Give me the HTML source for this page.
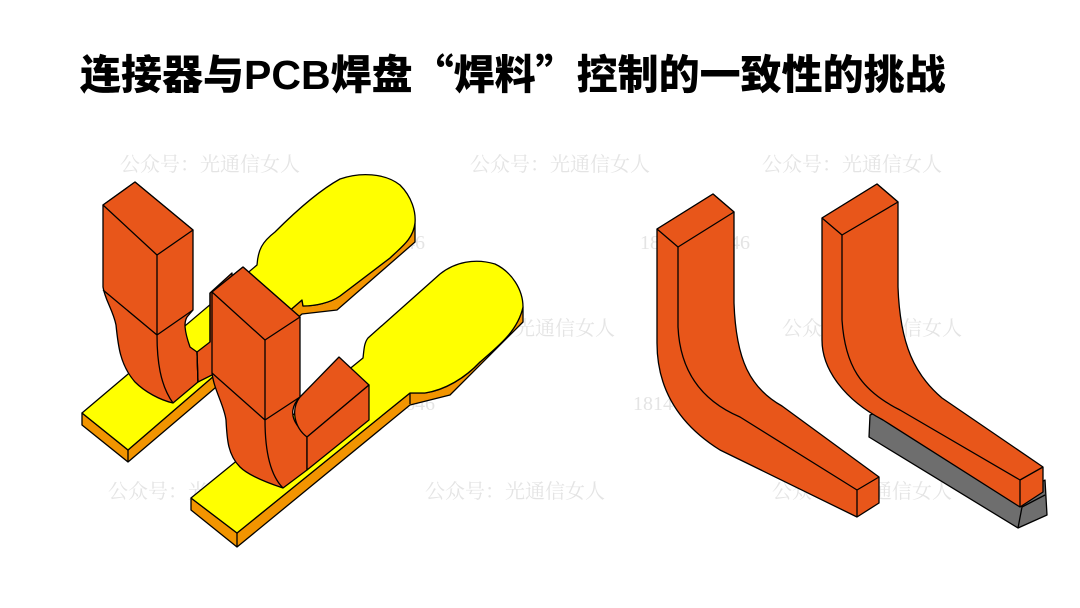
<!DOCTYPE html>
<html><head><meta charset="utf-8"><style>
html,body{margin:0;padding:0;background:#fff;}
body{width:1080px;height:608px;position:relative;overflow:hidden;}
.t{position:absolute;left:80px;top:43px;font-family:"Noto Sans CJK SC",sans-serif;font-weight:900;font-size:41px;line-height:56px;color:#000;white-space:nowrap;letter-spacing:0px}
.w{position:absolute;font-family:"Liberation Serif","Noto Serif CJK SC",serif;font-size:20px;color:#e4e4e4;white-space:nowrap}
svg{position:absolute;left:0;top:0}
</style></head><body>
<div class="t">连接器与<span style="font-family:'Liberation Sans',sans-serif;font-weight:bold">PCB</span>焊盘“焊料”控制的一致性的挑战</div>
<div class="w" style="left:120px;top:148px">公众号：光通信女人</div>
<div class="w" style="left:470px;top:148px">公众号：光通信女人</div>
<div class="w" style="left:762px;top:148px">公众号：光通信女人</div>
<div class="w" style="left:315px;top:232px">18140517646</div>
<div class="w" style="left:640px;top:232px">18140517646</div>
<div class="w" style="left:120px;top:312px">公众号：光通信女人</div>
<div class="w" style="left:435px;top:312px">公众号：光通信女人</div>
<div class="w" style="left:782px;top:312px">公众号：光通信女人</div>
<div class="w" style="left:325px;top:393px">18140517646</div>
<div class="w" style="left:633px;top:393px">18140517646</div>
<div class="w" style="left:108px;top:475px">公众号：光通信女人</div>
<div class="w" style="left:425px;top:475px">公众号：光通信女人</div>
<div class="w" style="left:772px;top:475px">公众号：光通信女人</div>
<svg width="1080" height="608" viewBox="0 0 1080 608" stroke="#000" stroke-width="1.3" stroke-linejoin="round">
<!-- back pad -->
<path d="M82,413 L82,425 L128,462 L302,314 L337,310 L415,242 L415,223 C413,240 400,248 390,258 L340,296 C330,303 315,306 303,306 L302,300 L128,450 Z" fill="#F29400"/>
<path d="M82,413 L257,265 C258,250 262,242 275,232 C295,212 320,190 340,179 C360,172 385,173 400,185 C412,197 416,212 415,223 C413,240 400,248 390,258 L340,296 C330,303 315,306 303,306 L302,300 L128,450 Z" fill="#FFFF00"/>
<line x1="128" y1="450" x2="128" y2="462"/>
<!-- back leg -->
<path d="M193,310 L187,317 C184,322 184,330 190,347 L197,352 L198,382 L173,403 C160,400 145,392 135,382 C120,365 118,345 116,325 C113,310 105,300 103,287 L103,205 L135,182 L193,230 Z" fill="#E8561A"/>
<path d="M197,352 L210,342 L210,293 L232,273 L232,280 L232,365 L198,382 Z" fill="#E8561A"/>
<path d="M103,205 L135,182 L193,230 L157,255 Z" fill="#E8561A"/>
<path d="M157,255 L157,335 M103,290 L157,335 L193,310 M157,335 C157,360 160,385 173,403 M197,352 L198,382 M210,293 L210,342" fill="none"/>
<!-- front pad -->
<path d="M191,498 L191,510 L237,547 L410,405 L450,395 L523,322 L523,307 C518,330 500,345 480,362 C465,378 445,390 425,393 L410,393 L237,533 Z" fill="#F29400"/>
<path d="M191,498 L363,358 C364,350 364,343 368,338 L440,274 C455,262 475,258 495,264 C512,272 523,290 523,307 C518,330 500,345 480,362 C465,378 445,390 425,393 L410,393 L237,533 Z" fill="#FFFF00"/>
<line x1="237" y1="533" x2="237" y2="547"/>
<line x1="410" y1="393" x2="410" y2="404"/>
<!-- front leg -->
<path d="M212,292 L243,267 L300,317 L300,397 C292,405 290,415 297,425 L307,437 L307,470 L283,488 C265,482 248,475 240,467 C228,455 227,440 226,420 C224,405 214,390 212,373 Z" fill="#E8561A"/>
<path d="M300,397 L339,357 L369,385 L307,437 C295,428 290,410 300,397 Z" fill="#E8561A"/>
<path d="M307,437 L369,385 L369,420 L307,470 Z" fill="#E8561A"/>
<path d="M212,292 L243,267 L300,317 L265,340 Z" fill="#E8561A"/>
<path d="M265,340 L265,420 M212,373 L265,420 L300,397 M265,420 C265,450 270,475 283,488" fill="none"/>
<!-- right: left J -->
<path d="M657,229 L713,194 L734,212 L734,303 C736,360 750,388 782,406 L879,477 L879,503 L857,517 L720,450 C680,425 657,390 657,343 Z" fill="#E8561A"/>
<path d="M657,229 L713,194 L734,212 L678,247 Z M857,490 L879,477 M857,490 L857,517" fill="#E8561A"/>
<path d="M678,247 L678,327 C680,370 700,400 740,417 L857,490" fill="none"/>
<!-- right: right J with solder -->
<path d="M870,415 L869,437 L1018,528 L1047,515 L1045,480 L1020,495 L883,410 Z" fill="#6E6E6E"/>
<path d="M1018,528 L1022,507 L1045,495" fill="none"/>
<path d="M822,218 L877,184 L898,202 L898,287 C900,345 915,375 942,398 L1043,467 L1043,492 L1020,507 L883,420 C845,400 822,370 822,340 Z" fill="#E8561A"/>
<path d="M822,218 L877,184 L898,202 L842,235 Z" fill="#E8561A"/>
<path d="M842,235 L842,320 C845,365 860,390 900,410 L1020,480 L1043,467 M1020,480 L1020,507" fill="none"/>
</svg>
</body></html>
